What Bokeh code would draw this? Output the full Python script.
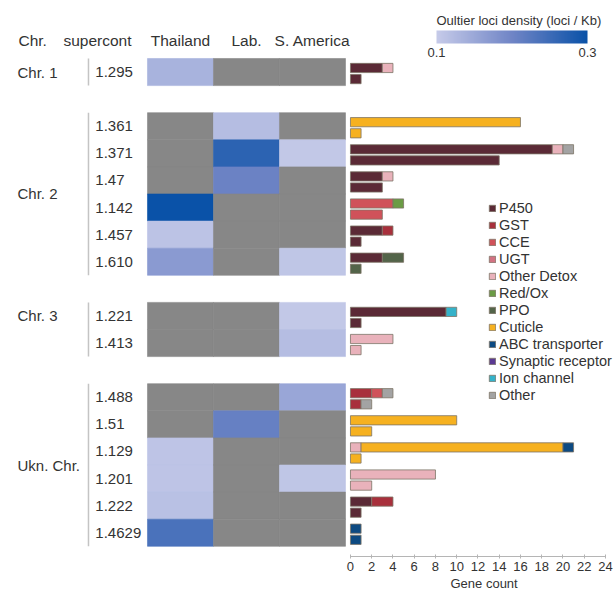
import numpy as np
from bokeh.plotting import figure
from bokeh.models import (Range1d, LinearAxis, FixedTicker, ColumnDataSource,
                          LinearColorMapper, ColorBar, Legend, LegendItem, Title)
from bokeh.embed import file_html
from bokeh.resources import INLINE
from bokeh.core.properties import value

FONT = "Liberation Sans"
TXT = "#333333"

# ---------------- data ----------------
chromosomes = ["Chr. 1", "Chr. 2", "Chr. 3", "Ukn. Chr."]
supercontigs = [["1.295"],
                ["1.361", "1.371", "1.47", "1.142", "1.457", "1.610"],
                ["1.221", "1.413"],
                ["1.488", "1.51", "1.129", "1.201", "1.222", "1.4629"]]
populations = ["Thailand", "Lab.", "S. America"]
nan = float("nan")
# outlier loci density (loci / Kb); nan = none
density_thailand = [0.135, nan, nan, nan, 0.30, 0.112, 0.17, nan, nan, nan, nan, 0.11, 0.11, 0.115, 0.237]
density_lab      = [nan, 0.12, 0.267, 0.205, nan, nan, nan, nan, nan, nan, 0.21, nan, nan, nan, nan]
density_samerica = [nan, nan, 0.105, nan, nan, nan, 0.108, 0.105, 0.12, 0.153, nan, nan, 0.108, nan, nan]

categories = ["P450", "GST", "CCE", "UGT", "Other Detox", "Red/Ox", "PPO", "Cuticle",
              "ABC transporter", "Synaptic receptor", "Ion channel", "Other"]
cat_colors = ["#5b2a36", "#a8303c", "#d0525a", "#d27282", "#e9b2bb", "#6b9b45", "#536449",
              "#f6b120", "#0d4a82", "#5b3a92", "#35b2c9", "#a3a3a3"]

# gene counts per supercontig (rows in order above), upper bar
p450_top     = [3, 0, 19, 3, 0, 3, 3, 9, 0, 0, 0, 0, 0, 2, 0]
gst_top      = [0, 0, 0, 0, 0, 1, 0, 0, 0, 2, 0, 0, 0, 2, 0]
cce_top      = [0, 0, 0, 0, 4, 0, 0, 0, 0, 1, 0, 0, 0, 0, 0]
ugt_top      = [0, 0, 0, 0, 0, 0, 0, 0, 0, 0, 0, 0, 0, 0, 0]
odetox_top   = [1, 0, 1, 1, 0, 0, 0, 0, 4, 0, 0, 1, 8, 0, 0]
redox_top    = [0, 0, 0, 0, 1, 0, 0, 0, 0, 0, 0, 0, 0, 0, 0]
ppo_top      = [0, 0, 0, 0, 0, 0, 2, 0, 0, 0, 0, 0, 0, 0, 0]
cuticle_top  = [0, 16, 0, 0, 0, 0, 0, 0, 0, 0, 10, 19, 0, 0, 0]
abc_top      = [0, 0, 0, 0, 0, 0, 0, 0, 0, 0, 0, 1, 0, 0, 1]
synaptic_top = [0, 0, 0, 0, 0, 0, 0, 0, 0, 0, 0, 0, 0, 0, 0]
ion_top      = [0, 0, 0, 0, 0, 0, 0, 1, 0, 0, 0, 0, 0, 0, 0]
other_top    = [0, 0, 1, 0, 0, 0, 0, 0, 0, 1, 0, 0, 0, 0, 0]
# lower bar
p450_bot     = [1, 0, 14, 3, 0, 1, 0, 1, 0, 0, 0, 0, 0, 1, 0]
gst_bot      = [0, 0, 0, 0, 0, 0, 0, 0, 0, 1, 0, 0, 0, 0, 0]
cce_bot      = [0, 0, 0, 0, 3, 0, 0, 0, 0, 0, 0, 0, 0, 0, 0]
ugt_bot      = [0, 0, 0, 0, 0, 0, 0, 0, 0, 0, 0, 0, 0, 0, 0]
odetox_bot   = [0, 0, 0, 0, 0, 0, 0, 0, 1, 0, 0, 0, 2, 0, 0]
redox_bot    = [0, 0, 0, 0, 0, 0, 0, 0, 0, 0, 0, 0, 0, 0, 0]
ppo_bot      = [0, 0, 0, 0, 0, 0, 1, 0, 0, 0, 0, 0, 0, 0, 0]
cuticle_bot  = [0, 1, 0, 0, 0, 0, 0, 0, 0, 0, 2, 1, 0, 0, 0]
abc_bot      = [0, 0, 0, 0, 0, 0, 0, 0, 0, 0, 0, 0, 0, 0, 1]
synaptic_bot = [0, 0, 0, 0, 0, 0, 0, 0, 0, 0, 0, 0, 0, 0, 0]
ion_bot      = [0, 0, 0, 0, 0, 0, 0, 0, 0, 0, 0, 0, 0, 0, 0]
other_bot    = [0, 0, 0, 0, 0, 0, 0, 0, 0, 1, 0, 0, 0, 0, 0]

count_ticks = list(range(0, 25, 2))
cbar_ticks = [0.1, 0.3]

top_counts = [p450_top, gst_top, cce_top, ugt_top, odetox_top, redox_top, ppo_top,
              cuticle_top, abc_top, synaptic_top, ion_top, other_top]
bot_counts = [p450_bot, gst_bot, cce_bot, ugt_bot, odetox_bot, redox_bot, ppo_bot,
              cuticle_bot, abc_bot, synaptic_bot, ion_bot, other_bot]

# ---------------- row layout ----------------
row_pos = []
group_span = []
pos = 0
for g, rows in enumerate(supercontigs):
    start = pos
    for _ in rows:
        row_pos.append(pos)
        pos += 1
    group_span.append((start, pos))
    pos += 1  # gap between groups
row_pos = np.array(row_pos, dtype=float)
all_sc = [s for rows in supercontigs for s in rows]

# ---------------- figure ----------------
p = figure(width=616, height=592,
           x_range=Range1d(-2.227, 7.106), y_range=Range1d(18.376, -2.14),
           output_backend="svg", toolbar_location=None,
           x_axis_type=None, y_axis_type=None,
           min_border_left=0, min_border_right=0, min_border_top=0, min_border_bottom=36)
p.extra_x_ranges = {"count": Range1d(-32.94, 25.04)}
p.outline_line_color = None
p.background_fill_color = "white"

# heatmap colour scale (3 stops)
stops = [np.array([0xc6, 0xcb, 0xe9], float), np.array([0x70, 0x85, 0xc6], float),
         np.array([0x0a, 0x52, 0xa8], float)]
palette = []
for t in np.linspace(0, 1, 256):
    if t <= 0.5:
        c = stops[0] + (stops[1] - stops[0]) * (t / 0.5)
    else:
        c = stops[1] + (stops[2] - stops[1]) * ((t - 0.5) / 0.5)
    palette.append("#%02x%02x%02x" % tuple(int(round(v)) for v in c))
mapper = LinearColorMapper(palette=palette, low=0.1, high=0.3, nan_color="#878787")

hx, hy, hv = [], [], []
for j, dens in enumerate([density_thailand, density_lab, density_samerica]):
    for i, v in enumerate(dens):
        hx.append(j + 0.5)
        hy.append(row_pos[i] + 0.5)
        hv.append(v)
hsrc = ColumnDataSource(dict(x=hx, y=hy, v=np.array(hv, dtype=float)))
p.rect(x="x", y="y", width=1, height=1, source=hsrc,
       fill_color={"field": "v", "transform": mapper},
       line_color={"field": "v", "transform": mapper}, line_width=0.6)

# header texts
hdr_x = [-1.955, -1.273] + [j + 0.5 for j in range(len(populations))]
hdr_t = ["Chr.", "supercont"] + populations
hdr_a = ["left", "left"] + ["center"] * len(populations)
p.text(x=hdr_x, y=[-0.66] * len(hdr_t), text=hdr_t, text_align=hdr_a,
       text_baseline="middle", text_font=value(FONT), text_font_size="15.5px",
       text_color=TXT)

# supercontig labels
p.text(x=[-0.79] * len(all_sc), y=list(row_pos + 0.5), text=all_sc,
       text_align="left", text_baseline="middle", text_font=value(FONT),
       text_font_size="15px", text_color=TXT)

# chromosome labels and separators
label_shift = [0, 0, -0.5, 0]
cy = [(a + b) / 2 + s for (a, b), s in zip(group_span, label_shift)]
p.text(x=[-1.97] * len(chromosomes), y=cy, text=chromosomes, text_align="left",
       text_baseline="middle", text_font=value(FONT), text_font_size="15px",
       text_color=TXT)
p.segment(x0=[-0.894] * len(group_span), x1=[-0.894] * len(group_span),
          y0=[a for a, b in group_span], y1=[b for a, b in group_span],
          line_color="#c4c4c4", line_width=1.5)

# stacked bars
renderers = []
top_cum = np.zeros(len(all_sc))
bot_cum = np.zeros(len(all_sc))
for c, (name, col) in enumerate(zip(categories, cat_colors)):
    left, right, yy = [], [], []
    for i in range(len(all_sc)):
        t = top_counts[c][i]
        if t > 0:
            left.append(top_cum[i]); right.append(top_cum[i] + t); yy.append(row_pos[i] + 0.35)
            top_cum[i] += t
        b = bot_counts[c][i]
        if b > 0:
            left.append(bot_cum[i]); right.append(bot_cum[i] + b); yy.append(row_pos[i] + 0.76)
            bot_cum[i] += b
    if not left:  # category without genes: keep a hidden entry so the legend swatch shows
        left, right, yy = [0.0], [0.0], [nan]
    src = ColumnDataSource(dict(left=left, right=right, y=np.array(yy, dtype=float)))
    r = p.hbar(y="y", left="left", right="right", height=0.34, source=src,
               x_range_name="count", fill_color=col, line_color="#7d7466",
               line_width=1, line_alpha=0.8)
    renderers.append(r)

# count axis
ax = LinearAxis(x_range_name="count", ticker=FixedTicker(ticks=count_ticks),
                bounds=(0, 24))
ax.axis_line_color = "#b5b5b5"
ax.major_tick_line_color = "#b5b5b5"
ax.major_tick_in = 2
ax.major_tick_out = 2
ax.minor_tick_line_color = None
ax.major_label_standoff = 3
ax.major_label_text_font = FONT
ax.major_label_text_font_size = "13px"
ax.major_label_text_color = TXT
p.add_layout(ax, "below")

p.add_layout(Title(text="Gene count", align="left", offset=450, standoff=0,
                   text_font=FONT, text_font_size="13px", text_font_style="normal",
                   text_color=TXT), "below")

# legend
legend = Legend(items=[LegendItem(label=n, renderers=[r]) for n, r in zip(categories, renderers)],
                location=(488, 153), glyph_width=8, glyph_height=8, label_standoff=3,
                spacing=1, label_height=16, padding=0, margin=0,
                label_text_font=FONT, label_text_font_size="14.5px", label_text_color=TXT,
                border_line_color=None, background_fill_alpha=0)
p.add_layout(legend, "center")

# color bar
cb = ColorBar(color_mapper=mapper, orientation="horizontal", width=151, height=13,
              location=(436, 497), ticker=FixedTicker(ticks=cbar_ticks),
              title="Oultier loci density (loci / Kb)", title_text_font=FONT,
              title_text_font_size="13px", title_text_font_style="normal",
              title_text_color=TXT, title_standoff=5,
              major_label_text_font=FONT, major_label_text_font_size="13px",
              major_label_text_color=TXT, label_standoff=4,
              major_tick_line_color=None, bar_line_color=None,
              padding=0, margin=0, border_line_color=None, background_fill_alpha=0)
p.add_layout(cb, "center")

open("out.html", "w").write(file_html(p, INLINE))
